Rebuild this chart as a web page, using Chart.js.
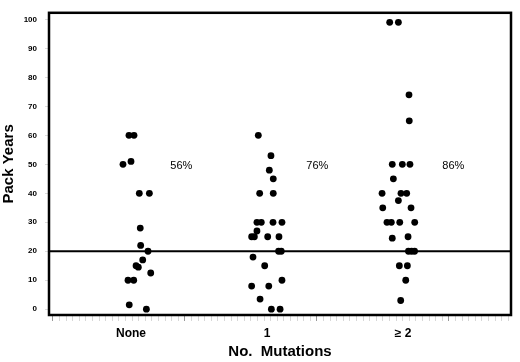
<!DOCTYPE html>
<html>
<head>
<meta charset="utf-8">
<script src="https://cdn.jsdelivr.net/npm/chart.js@4.4.1/dist/chart.umd.min.js"></script>
<style>
  html, body { margin: 0; padding: 0; background: #fff; }
  #wrap { width: 520px; height: 362px; }
</style>
</head>
<body>
<div id="wrap"><canvas id="chart"></canvas></div>
<script>
const categories = ['None', '1', '\u2265 2'];
const yTicks = [0, 10, 20, 30, 40, 50, 60, 70, 80, 90, 100];
const pctLabels = ['56%', '76%', '86%'];
const cutoff = 20;

// pack years per group, with the horizontal jitter
const noneY = [60, 60, 50, 51, 40, 40, 28, 22, 20, 17, 15, 14.5, 12.5, 10, 10, 1.5, 0];
const noneJitter = [-0.015, 0.022, -0.059, 0, 0.061, 0.135, 0.068, 0.071, 0.125, 0.086, 0.037, 0.054, 0.145, -0.022, 0.020, -0.013, 0.113];
const oneY = [60, 53, 48, 45, 40, 40, 30, 30, 30, 30, 27, 25, 25, 25, 25, 20, 20, 18, 15, 10, 8, 8, 3.5, 0, 0];
const oneJitter = [-0.064, 0.029, 0.017, 0.046, -0.054, 0.046, -0.074, -0.042, 0.044, 0.110, -0.074, -0.113, -0.093, 0.005, 0.088, 0.085, 0.105, -0.103, -0.017, 0.110, -0.113, 0.013, -0.051, 0.032, 0.096];
const twoY = [99, 99, 74, 65, 50, 50, 50, 45, 40, 40, 40, 37.5, 35, 35, 30, 30, 30, 30, 24.5, 25, 20, 20, 20, 15, 15, 10, 3];
const twoJitter = [-0.098, -0.034, 0.044, 0.046, -0.079, -0.005, 0.051, -0.071, -0.154, -0.015, 0.027, -0.034, -0.149, 0.059, -0.118, -0.086, -0.024, 0.086, -0.079, 0.037, 0.040, 0.063, 0.085, -0.027, 0.032, 0.020, -0.017];

const groups = [[noneY, noneJitter], [oneY, oneJitter], [twoY, twoJitter]];
const points = [];
groups.forEach((g, i) => {
    g[0].forEach((v, j) => points.push({ x: i + 1 + g[1][j], y: v }));
});

const FONT = "'Liberation Sans', Arial, sans-serif";

// frame, cutoff line and the percent notes
const extras = {
    id: 'extras',
    beforeDatasetsDraw(chart) {
        const { ctx, chartArea: a, scales } = chart;
        const yPx = scales.y.getPixelForValue(cutoff);
        ctx.save();
        ctx.strokeStyle = '#000';
        ctx.lineWidth = 2;
        ctx.beginPath();
        ctx.moveTo(a.left, yPx);
        ctx.lineTo(a.right, yPx);
        ctx.stroke();
        ctx.fillStyle = '#000';
        ctx.font = '11px ' + FONT;
        ctx.textAlign = 'center';
        ctx.textBaseline = 'middle';
        pctLabels.forEach((t, i) => {
            ctx.fillText(t, scales.x.getPixelForValue(i + 1.37), scales.y.getPixelForValue(49.5));
        });
        ctx.restore();
    },
    afterDraw(chart) {
        const { ctx, chartArea: a } = chart;
        ctx.save();
        ctx.strokeStyle = '#000';
        ctx.lineWidth = 2.5;
        ctx.strokeRect(a.left, a.top, a.right - a.left, a.bottom - a.top);
        ctx.restore();
    }
};

new Chart(document.getElementById('chart'), {
    type: 'scatter',
    data: {
        datasets: [{
            data: points,
            backgroundColor: '#000',
            borderWidth: 0,
            pointRadius: 3.4,
            pointHoverRadius: 3.4
        }]
    },
    options: {
        responsive: true,
        maintainAspectRatio: false,
        animation: false,
        events: [],
        layout: { padding: { top: 3, right: 9, left: 0, bottom: 0 } },
        plugins: { legend: { display: false }, tooltip: { enabled: false } },
        scales: {
            x: {
                type: 'linear',
                min: 0.397,
                max: 3.794,
                afterBuildTicks: s => { s.ticks = categories.map((c, i) => ({ value: i + 1 })); },
                afterFit: s => { s.height = 47; },
                grid: { display: false },
                border: { display: false },
                ticks: {
                    color: '#000',
                    padding: 3,
                    maxRotation: 0,
                    font: { family: FONT, size: 12, weight: 'bold' },
                    callback: (v) => categories[Math.round(v) - 1]
                },
                title: {
                    display: true,
                    text: 'No.  Mutations',
                    color: '#000',
                    padding: { top: 0, bottom: 2 },
                    font: { family: FONT, size: 15, weight: 'bold', lineHeight: 1.1 }
                }
            },
            xm: {
                type: 'linear',
                min: -0.6,
                max: 69.4,
                position: { y: -2 },
                afterBuildTicks: s => {
                    const t = [];
                    for (let i = 0; i <= 69; i++) t.push({ value: i });
                    s.ticks = t;
                },
                border: { display: false },
                grid: {
                    drawOnChartArea: false,
                    tickLength: 6,
                    tickWidth: 1,
                    tickColor: c => (c.tick && c.tick.value % 20 === 0) ? '#999' : '#d8d8d8'
                },
                ticks: { display: false }
            },
            y: {
                min: -2,
                max: 102.3,
                afterBuildTicks: s => { s.ticks = yTicks.map(v => ({ value: v })); },
                afterFit: s => { s.width = 49; },
                border: { display: false },
                grid: { drawOnChartArea: false, tickLength: 4, tickColor: '#dcdcdc' },
                ticks: {
                    color: '#000',
                    padding: 8,
                    font: { family: FONT, size: 8, weight: 'bold' }
                },
                title: {
                    display: true,
                    text: 'Pack Years',
                    color: '#000',
                    padding: 0,
                    font: { family: FONT, size: 15, weight: 'bold', lineHeight: 1.2 }
                }
            }
        }
    },
    plugins: [extras]
});
</script>
</body>
</html>
